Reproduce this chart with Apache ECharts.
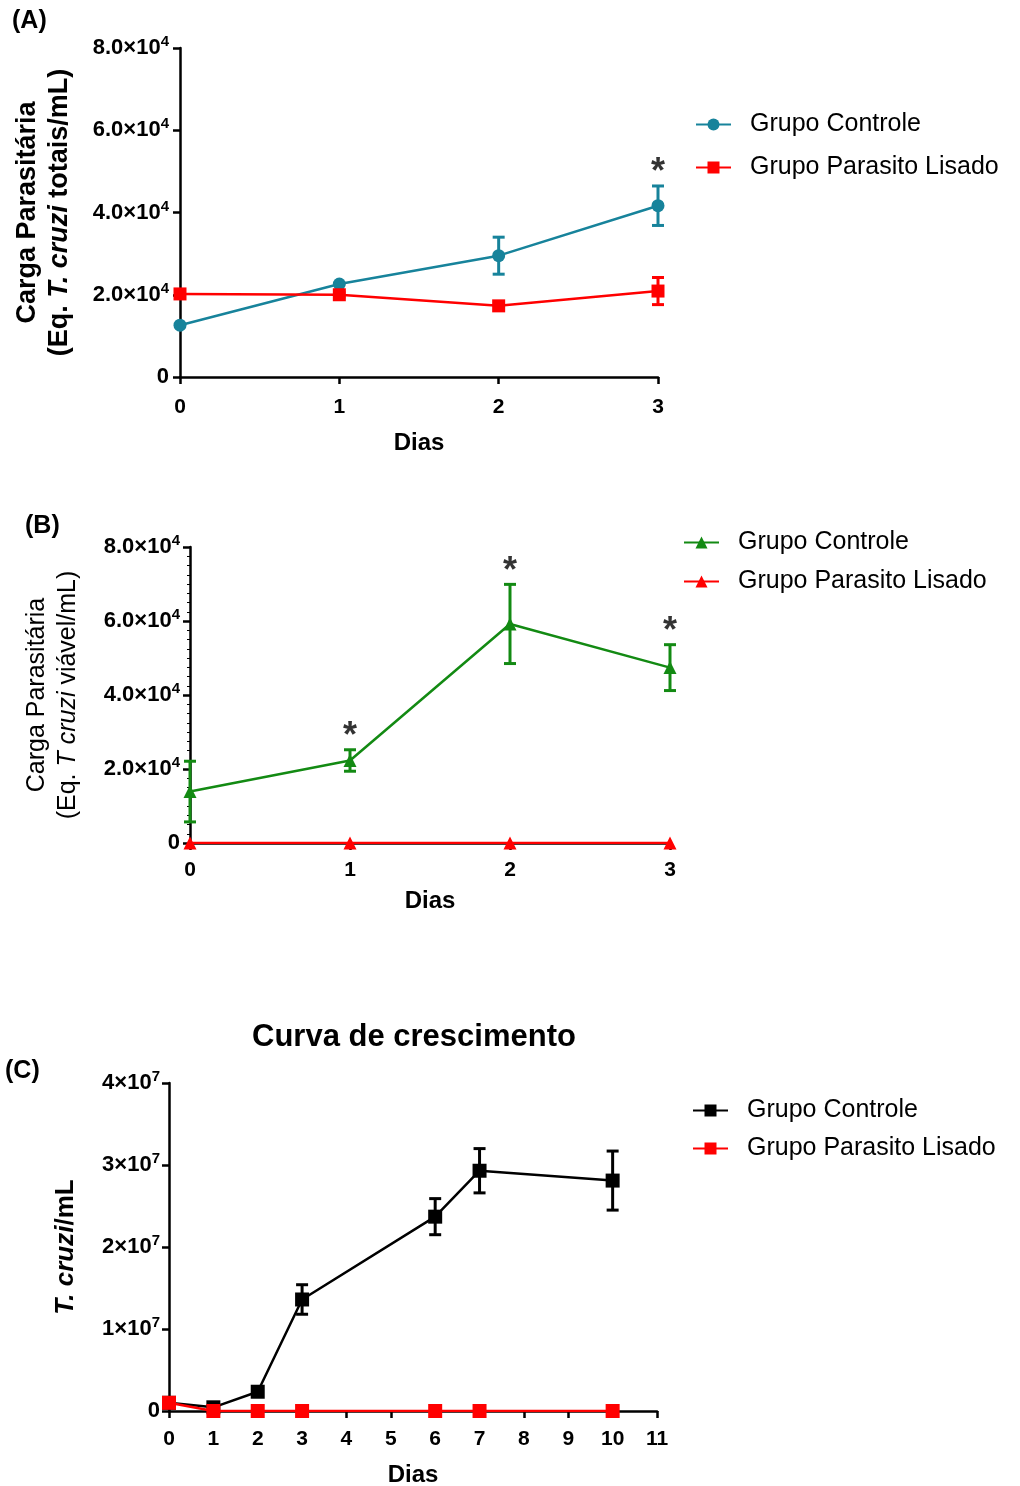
<!DOCTYPE html>
<html>
<head>
<meta charset="utf-8">
<script src="https://cdn.jsdelivr.net/npm/echarts@6/dist/echarts.min.js"></script>
<style>
html,body{margin:0;padding:0;background:#fff;}
.p{position:absolute;left:0;width:1020px;}
</style>
</head>
<body>
<div id="a" class="p" style="top:0;height:470px"></div>
<div id="b" class="p" style="top:470px;height:470px"></div>
<div id="c" class="p" style="top:940px;height:546px"></div>
<script>
// ---------- DATA ----------
const seriesNames = ['Grupo Controle', 'Grupo Parasito Lisado'];
const daysA = [0, 1, 2, 3];
const ctrlA = [12600, 22600, 29500, 41650];
const ctrlAErr = [0, 0, 4500, 4800];
const lisA = [20200, 20000, 17300, 20900];
const lisAErr = [0, 600, 0, 3300];
const sigA = [3];

const daysB = [0, 1, 2, 3];
const ctrlB = [13900, 22300, 59200, 47400];
const ctrlBErr = [8200, 2900, 10700, 6200];
const lisB = [0, 0, 0, 0];
const sigB = [1, 2, 3];

const daysC = [0, 1, 2, 3, 6, 7, 10];
const ctrlC = [1.0e6, 0.45e6, 2.35e6, 13.6e6, 23.7e6, 29.3e6, 28.1e6];
const ctrlCErr = [0, 0, 0, 1.8e6, 2.2e6, 2.7e6, 3.6e6];
const lisC = [1.0e6, 0, 0, 0, 0, 0, 0];

// ---------- HELPERS ----------
const FF = '"Liberation Sans", Arial, sans-serif';
const supRich = {
  m: {fontSize: 22, fontWeight: 'bold', fontFamily: FF, color: '#000'},
  s: {fontSize: 15, fontWeight: 'bold', fontFamily: FF, color: '#000', padding: [0, 0, 12, 0]}
};
function pairs(x, y) { return x.map((d, i) => [d, y[i]]); }
function errData(x, m, e) {
  const out = [];
  x.forEach((d, i) => { if (e[i] > 0) out.push([d, m[i] - e[i], m[i] + e[i]]); });
  return out;
}
function errSeries(x, m, e, color, z) {
  return {
    type: 'custom', silent: true, z: z,
    data: errData(x, m, e),
    encode: {x: 0, y: [1, 2]},
    renderItem: function (params, api) {
      const xv = api.value(0), lo = api.value(1), hi = api.value(2);
      const a = api.coord([xv, hi]), b = api.coord([xv, lo]);
      const w = 6, st = {stroke: color, lineWidth: 3};
      return {type: 'group', children: [
        {type: 'line', shape: {x1: a[0], y1: a[1], x2: b[0], y2: b[1]}, style: st},
        {type: 'line', shape: {x1: a[0] - w, y1: a[1], x2: a[0] + w, y2: a[1]}, style: st},
        {type: 'line', shape: {x1: b[0] - w, y1: b[1], x2: b[0] + w, y2: b[1]}, style: st}
      ]};
    }
  };
}
function starSeries(sig, x, m, e) {
  return {
    type: 'scatter', silent: true, z: 20,
    symbolSize: 1, itemStyle: {color: 'rgba(0,0,0,0)'},
    data: sig.map(d => { const i = x.indexOf(d); return [d, m[i] + e[i]]; }),
    label: {show: true, formatter: '*', position: 'top', distance: -6,
      fontSize: 36, fontWeight: 'bold', fontFamily: FF, color: '#000'}
  };
}
function lineSeries(name, data, color, symbol, size, z) {
  return {
    name: name, type: 'line', data: data, z: z,
    symbol: symbol, symbolSize: size,
    lineStyle: {color: color, width: 2.5},
    itemStyle: {color: color},
    emphasis: {disabled: true}, animation: false
  };
}
const axisLineStyle = {show: true, onZero: false, lineStyle: {color: '#000', width: 2.5}};
const axisTickStyle = {show: true, length: 7, lineStyle: {color: '#000', width: 2.5}};
function panelLabel(txt, x, y) {
  return {type: 'text', left: x, top: y,
    style: {text: txt, font: 'bold 25px ' + FF, fill: '#000'}};
}
function legendCfg(left, top, gap) {
  return {
    orient: 'vertical', left: left, top: top, itemGap: gap,
    itemWidth: 35, itemHeight: 15, selectedMode: false,
    data: seriesNames,
    textStyle: {fontSize: 25, fontFamily: FF, color: '#000', padding: [0, 0, 0, 14]}
  };
}
function gridCfg(left, top, width, height) {
  return {left: left, top: top, width: width, height: height,
    containLabel: false, outerBoundsMode: 'none'};
}
function xAxisCfg(max, margin, nameGap) {
  return {
    type: 'value', min: 0, max: max, interval: 1,
    axisLine: axisLineStyle, axisTick: axisTickStyle, splitLine: {show: false},
    axisLabel: {fontSize: 21, fontWeight: 'bold', fontFamily: FF, color: '#000', margin: margin},
    name: 'Dias', nameLocation: 'middle', nameGap: nameGap,
    nameTextStyle: {fontSize: 24, fontWeight: 'bold', fontFamily: FF, color: '#000'}
  };
}

// ---------- PANEL A ----------
const chA = echarts.init(document.getElementById('a'), null, {renderer: 'canvas'});
chA.setOption({
  animation: false,
  graphic: [panelLabel('(A)', 12, 9)],
  legend: legendCfg(690, 107, 18),
  grid: gridCfg(180, 48, 478, 329),
  xAxis: xAxisCfg(3, 20, 54),
  yAxis: {
    type: 'value', min: 0, max: 80000, interval: 20000,
    axisLine: axisLineStyle, axisTick: axisTickStyle, splitLine: {show: false},
    axisLabel: {margin: 11, formatter: v => v === 0 ? '{m|0}' : '{m|' + (v / 1e4).toFixed(1) + '×10}{s|4}', rich: supRich},
    name: '{b|Carga Parasitária}\n{b|(Eq. }{i|T. cruzi}{b| totais/mL)}',
    nameLocation: 'middle', nameGap: 104, nameRotate: 90,
    nameTextStyle: {lineHeight: 32, rich: {
      b: {fontSize: 27, fontWeight: 'bold', fontFamily: FF, color: '#000', lineHeight: 32},
      i: {fontSize: 27, fontWeight: 'bold', fontStyle: 'italic', fontFamily: FF, color: '#000', lineHeight: 32}}}
  },
  series: [
    errSeries(daysA, ctrlA, ctrlAErr, '#17839b', 3),
    lineSeries(seriesNames[0], pairs(daysA, ctrlA), '#17839b', 'circle', 13, 4),
    errSeries(daysA, lisA, lisAErr, '#ff0000', 5),
    lineSeries(seriesNames[1], pairs(daysA, lisA), '#ff0000', 'rect', 13, 6),
    starSeries(sigA, daysA, ctrlA, ctrlAErr)
  ]
});

// ---------- PANEL B ----------
const chB = echarts.init(document.getElementById('b'), null, {renderer: 'canvas'});
chB.setOption({
  animation: false,
  graphic: [panelLabel('(B)', 25, 44)],
  legend: legendCfg(678, 55, 14),
  grid: gridCfg(190, 77, 480, 296),
  xAxis: xAxisCfg(3, 17, 46),
  yAxis: {
    type: 'value', min: 0, max: 80000, interval: 20000,
    axisLine: axisLineStyle, axisTick: axisTickStyle, splitLine: {show: false},
    minorTick: {show: true, splitNumber: 8, length: 3, lineStyle: {color: '#000', width: 1}},
    axisLabel: {margin: 10, formatter: v => v === 0 ? '{m|0}' : '{m|' + (v / 1e4).toFixed(1) + '×10}{s|4}', rich: supRich},
    name: '{b|Carga Parasitária}\n{b|(Eq. }{i|T cruzi}{b| viável/mL)}',
    nameLocation: 'middle', nameGap: 106, nameRotate: 90,
    nameTextStyle: {lineHeight: 31, rich: {
      b: {fontSize: 25, fontFamily: FF, color: '#000', lineHeight: 31},
      i: {fontSize: 25, fontStyle: 'italic', fontFamily: FF, color: '#000', lineHeight: 31}}}
  },
  series: [
    errSeries(daysB, ctrlB, ctrlBErr, '#138a13', 3),
    lineSeries(seriesNames[0], pairs(daysB, ctrlB), '#138a13', 'triangle', 13, 4),
    lineSeries(seriesNames[1], pairs(daysB, lisB), '#ff0000', 'triangle', 13, 6),
    starSeries(sigB, daysB, ctrlB, ctrlBErr)
  ]
});

// ---------- PANEL C ----------
const chC = echarts.init(document.getElementById('c'), null, {renderer: 'canvas'});
chC.setOption({
  animation: false,
  title: {text: 'Curva de crescimento', left: 247, top: 77,
    textStyle: {fontSize: 31, fontWeight: 'bold', fontFamily: FF, color: '#000'}},
  graphic: [panelLabel('(C)', 5, 119)],
  legend: legendCfg(687, 153, 13),
  grid: gridCfg(169, 143, 488, 328),
  xAxis: xAxisCfg(11, 18, 52),
  yAxis: {
    type: 'value', min: 0, max: 4e7, interval: 1e7,
    axisLine: axisLineStyle, axisTick: axisTickStyle, splitLine: {show: false},
    axisLabel: {margin: 9, formatter: v => v === 0 ? '{m|0}' : '{m|' + (v / 1e7) + '×10}{s|7}', rich: supRich},
    name: '{i|T. cruzi}{b|/mL}',
    nameLocation: 'middle', nameGap: 90, nameRotate: 90,
    nameTextStyle: {rich: {
      b: {fontSize: 26, fontWeight: 'bold', fontFamily: FF, color: '#000'},
      i: {fontSize: 26, fontWeight: 'bold', fontStyle: 'italic', fontFamily: FF, color: '#000'}}}
  },
  series: [
    errSeries(daysC, ctrlC, ctrlCErr, '#000000', 3),
    lineSeries(seriesNames[0], pairs(daysC, ctrlC), '#000000', 'rect', 14, 4),
    lineSeries(seriesNames[1], pairs(daysC, lisC), '#ff0000', 'rect', 14, 6)
  ]
});
</script>
</body>
</html>
